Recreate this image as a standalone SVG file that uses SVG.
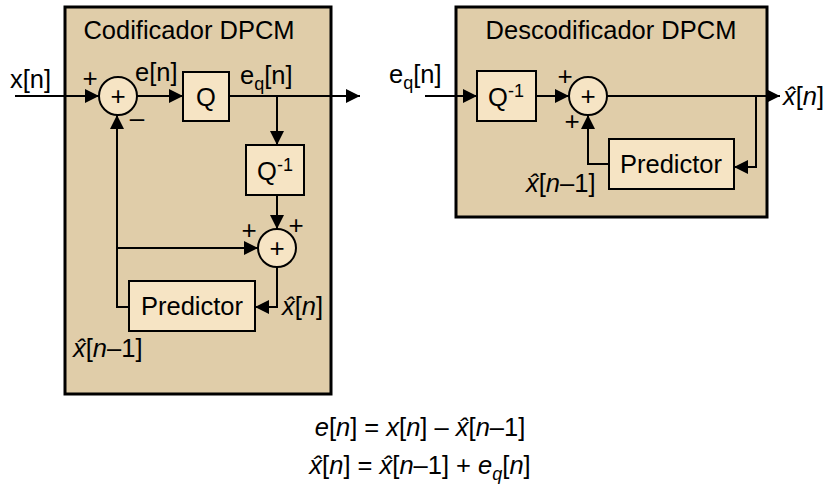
<svg xmlns="http://www.w3.org/2000/svg" width="835" height="493" viewBox="0 0 835 493">
<style>
text{font-family:"Liberation Sans",Arial,sans-serif;fill:#000}
.t25{font-size:25.5px}
.pl{font-size:26px;text-anchor:middle}
.mid{text-anchor:middle}
.it{font-style:italic}
.outer{fill:#E0CDA9;stroke:#000;stroke-width:3}
.inner{fill:#F6E4C4;stroke:#000;stroke-width:2}
.wire{fill:none;stroke:#000;stroke-width:2}
.arr{marker-end:url(#ah)}
</style>
<defs>
<marker id="ah" markerUnits="userSpaceOnUse" markerWidth="15" markerHeight="15" refX="14" refY="7" orient="auto">
<path d="M0,0 L14,7 L0,14 z" fill="#000"/>
</marker>
</defs>
<rect width="835" height="493" fill="#fff"/>

<g id="encoder">
<rect class="outer" x="65" y="7" width="266" height="387"/>
<text class="t25 mid" x="189" y="39">Codificador DPCM</text>
</g>
<g id="decoder">
<rect class="outer" x="456" y="7" width="311" height="210"/>
<text class="t25 mid" x="611" y="39">Descodificador DPCM</text>
</g>

<g id="connectors">
<path class="wire arr" d="M15,96 H99"/>
<path class="wire arr" d="M137,96 H183"/>
<path class="wire arr" d="M229,96 H360"/>
<path class="wire arr" d="M277,96 V145"/>
<path class="wire arr" d="M277,195 V229"/>
<path class="wire arr" d="M277,267 V307 H255"/>
<path class="wire arr" d="M129,307 H117 V115"/>
<path class="wire arr" d="M117,248 H258"/>
<path class="wire arr" d="M425,96 H477"/>
<path class="wire arr" d="M536,96 H569"/>
<path class="wire arr" d="M607,96 H780"/>
<path class="wire arr" d="M756,96 V167 H734"/>
<path class="wire arr" d="M609,164 H588 V115"/>
</g>

<g id="sum1">
<circle class="inner" cx="118" cy="96" r="19"/>
<text class="pl" x="118" y="105">+</text>
</g>
<g id="quantizer">
<rect class="inner" x="183" y="72" width="46" height="49"/>
<text class="t25 mid" x="206" y="106">Q</text>
</g>
<g id="invq-enc">
<rect class="inner" x="246" y="145" width="58" height="50"/>
<text class="t25 mid" x="275" y="180">Q<tspan font-size="18" dy="-9">-1</tspan></text>
</g>
<g id="sum2">
<circle class="inner" cx="277" cy="248" r="19"/>
<text class="pl" x="277" y="257">+</text>
</g>
<g id="predictor-enc">
<rect class="inner" x="129" y="281" width="126" height="50"/>
<text class="t25 mid" x="192" y="315">Predictor</text>
</g>

<g id="invq-dec">
<rect class="inner" x="477" y="71" width="59" height="50"/>
<text class="t25 mid" x="506" y="106">Q<tspan font-size="18" dy="-9">-1</tspan></text>
</g>
<g id="sum3">
<circle class="inner" cx="588" cy="96" r="19"/>
<text class="pl" x="588" y="105">+</text>
</g>
<g id="predictor-dec">
<rect class="inner" x="609" y="139" width="125" height="50"/>
<text class="t25 mid" x="671" y="173">Predictor</text>
</g>

<g id="labels">
<text class="t25" x="10" y="88">x[n]</text>
<text class="pl" x="90" y="87">+</text>
<text class="pl" x="137" y="127">–</text>
<text class="t25" x="135" y="81">e[n]</text>
<text class="t25" x="240" y="84">e<tspan font-size="18" dy="6">q</tspan><tspan dy="-6">[n]</tspan></text>
<text class="pl" x="249" y="239">+</text>
<text class="pl" x="296" y="234">+</text>
<text class="t25" x="282" y="315"><tspan class="it">x̂</tspan>[<tspan class="it">n</tspan>]</text>
<text class="t25" x="73" y="357"><tspan class="it">x̂</tspan>[<tspan class="it">n</tspan>–1]</text>

<text class="t25" x="389" y="83">e<tspan font-size="18" dy="6">q</tspan><tspan dy="-6">[n]</tspan></text>
<text class="pl" x="565" y="85">+</text>
<text class="pl" x="572" y="130">+</text>
<text class="t25" x="783" y="105"><tspan class="it">x̂</tspan>[<tspan class="it">n</tspan>]</text>
<text class="t25" x="526" y="192"><tspan class="it">x̂</tspan>[<tspan class="it">n</tspan>–1]</text>

<text class="t25 mid" x="420" y="436"><tspan class="it">e</tspan>[<tspan class="it">n</tspan>] = <tspan class="it">x</tspan>[<tspan class="it">n</tspan>] – <tspan class="it">x̂</tspan>[<tspan class="it">n</tspan>–1]</text>
<text class="t25 mid" x="420" y="474"><tspan class="it">x̂</tspan>[<tspan class="it">n</tspan>] = <tspan class="it">x̂</tspan>[<tspan class="it">n</tspan>–1] + <tspan class="it">e</tspan><tspan class="it" font-size="18" dy="6">q</tspan><tspan dy="-6">[</tspan><tspan class="it">n</tspan>]</text>
</g>
</svg>
